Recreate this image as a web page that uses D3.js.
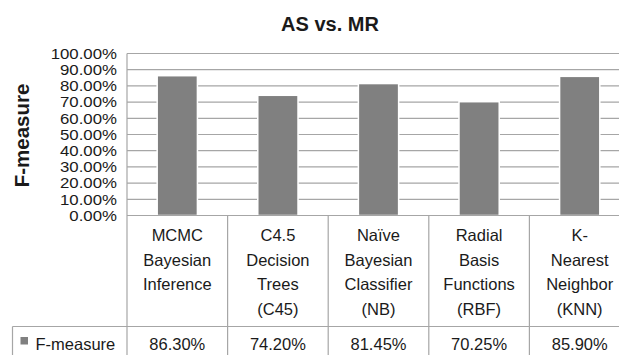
<!DOCTYPE html>
<html>
<head>
<meta charset="utf-8">
<script src="https://cdn.jsdelivr.net/npm/d3@7/dist/d3.min.js"></script>
<style>
  html, body { margin: 0; padding: 0; background: #fff; }
  svg { display: block; font-family: "Liberation Sans", Arial, sans-serif; }
</style>
</head>
<body>
<svg id="chart" width="619" height="355"></svg>
<script>
// Chart data
const categories = [
  "MCMC\nBayesian\nInference",
  "C4.5\nDecision\nTrees\n(C45)",
  "Naïve\nBayesian\nClassifier\n(NB)",
  "Radial\nBasis\nFunctions\n(RBF)",
  "K-\nNearest\nNeighbor\n(KNN)"
];
const fMeasure = [86.30, 74.20, 81.45, 70.25, 85.90];
const valueLabels = ["86.30%", "74.20%", "81.45%", "70.25%", "85.90%"];
const yTicks = [0, 10, 20, 30, 40, 50, 60, 70, 80, 90, 100];
const seriesName = "F-measure";
const chartTitle = "AS vs. MR";
const yTitle = "F-measure";

const svg = d3.select("#chart");
const W = 619, H = 355;

const plotLeft = 127, plotRight = 630, plotTop = 53.5, plotBottom = 215.5;
const headerBottom = 326.5, tableLeft = 12.5;
const gridColor = "#a6a6a6";
const textColor = "#1a1a1a";

const x = d3.scaleBand().domain(categories).range([plotLeft, plotRight]).padding(0);
const y = d3.scaleLinear().domain([0, 100]).range([plotBottom, plotTop]);

// Title
svg.append("text")
  .attr("x", 330).attr("y", 30.5)
  .attr("text-anchor", "middle")
  .attr("font-weight", "bold").attr("font-size", 20)
  .attr("fill", textColor)
  .text(chartTitle);

// Y axis title
svg.append("text")
  .attr("transform", `translate(28.5,135.5) rotate(-90)`)
  .attr("text-anchor", "middle")
  .attr("font-weight", "bold").attr("font-size", 20.5)
  .attr("fill", textColor)
  .text(yTitle);

// Gridlines
svg.append("g").selectAll("line").data(yTicks).join("line")
  .attr("x1", plotLeft).attr("x2", plotRight)
  .attr("y1", d => y(d)).attr("y2", d => y(d))
  .attr("stroke", gridColor).attr("stroke-width", 1.2);

// Y axis tick labels (slightly widened, compact height so they stack tightly)
const yAxis = d3.axisLeft(y).tickValues(yTicks)
  .tickFormat(d => d.toFixed(2) + "%").tickSize(0).tickPadding(9);
const yG = svg.append("g").attr("transform", `translate(${plotLeft},0)`).call(yAxis);
yG.select(".domain").remove();
yG.selectAll("text")
  .attr("font-size", 15).attr("fill", textColor)
  .attr("font-family", "Liberation Sans, Arial, sans-serif")
  .attr("transform", "scale(1.12,1)");

// Bars
const barW = x.bandwidth() * 0.4;
svg.append("g").selectAll("rect").data(fMeasure).join("rect")
  .attr("x", (d, i) => x(categories[i]) + (x.bandwidth() - barW) / 2)
  .attr("width", barW)
  .attr("y", d => y(d))
  .attr("height", d => y(0) - y(d))
  .attr("fill", "#808080")
  .attr("stroke", "#ffffff").attr("stroke-width", 1.5);

// Data table lines
const tbl = svg.append("g").attr("stroke", gridColor).attr("stroke-width", 1.2);
tbl.append("line").attr("x1", plotLeft).attr("x2", plotRight)
  .attr("y1", plotBottom).attr("y2", plotBottom);
tbl.append("line").attr("x1", tableLeft).attr("x2", plotRight)
  .attr("y1", headerBottom).attr("y2", headerBottom);
tbl.append("line").attr("x1", tableLeft).attr("x2", tableLeft)
  .attr("y1", headerBottom).attr("y2", H);
tbl.append("line").attr("x1", plotLeft).attr("x2", plotLeft)
  .attr("y1", plotTop).attr("y2", H);
tbl.selectAll("line.col").data(categories).join("line").attr("class", "col")
  .attr("x1", d => x(d) + x.bandwidth()).attr("x2", d => x(d) + x.bandwidth())
  .attr("y1", plotBottom).attr("y2", H);

// Category labels (multi-line)
const catG = svg.append("g").attr("font-size", 16.5).attr("fill", textColor)
  .attr("text-anchor", "middle");
categories.forEach(c => {
  const t = catG.append("text").attr("x", x(c) + x.bandwidth() / 2).attr("y", 241);
  c.split("\n").forEach((line, j) => {
    t.append("tspan").attr("x", x(c) + x.bandwidth() / 2)
      .attr("dy", j === 0 ? 0 : 24.6).text(line);
  });
});

// Legend key + series name
svg.append("rect").attr("x", 20.5).attr("y", 337).attr("width", 7.5).attr("height", 7.5)
  .attr("fill", "#808080");
svg.append("text").attr("x", 35.5).attr("y", 349.5)
  .attr("font-size", 16.5).attr("fill", textColor).text(seriesName);

// Value row
svg.append("g").selectAll("text").data(valueLabels).join("text")
  .attr("x", (d, i) => x(categories[i]) + x.bandwidth() / 2)
  .attr("y", 349.5)
  .attr("text-anchor", "middle").attr("font-size", 16.5).attr("fill", textColor)
  .text(d => d);
</script>
</body>
</html>
